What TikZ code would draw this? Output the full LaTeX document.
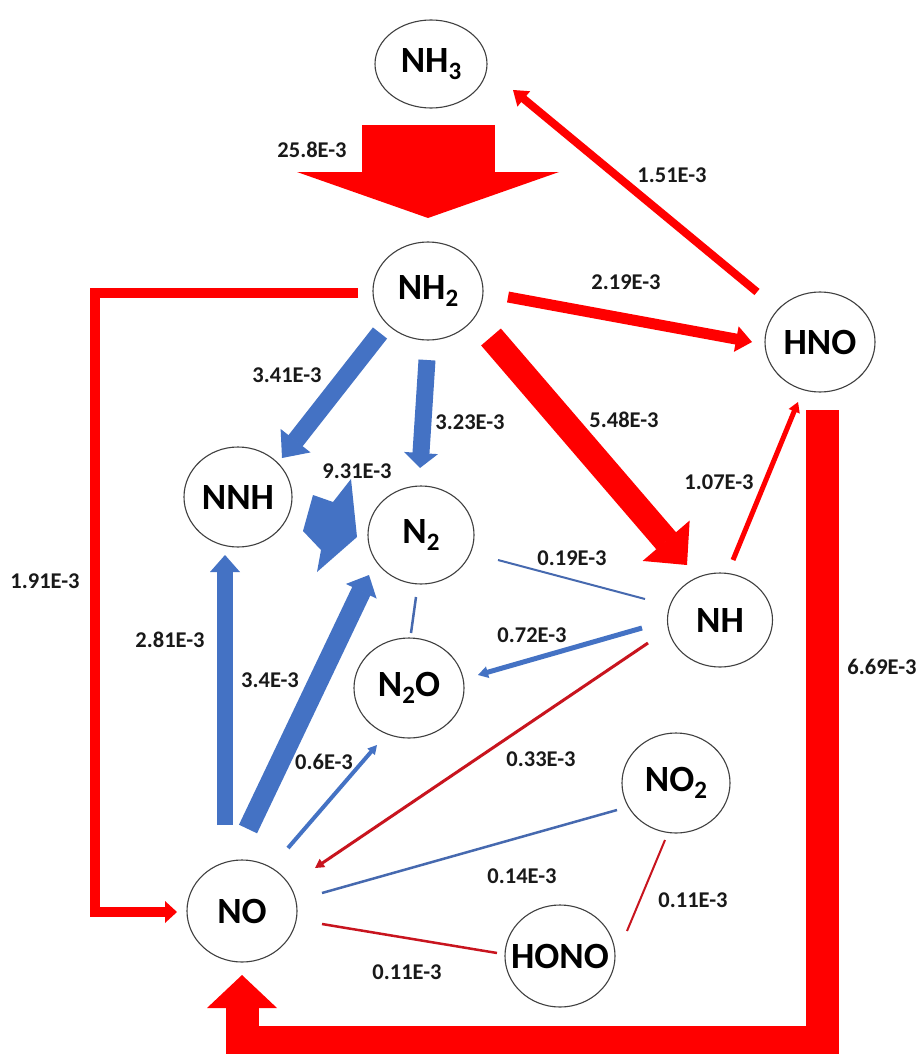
\documentclass[tikz,border=0pt]{standalone}
\usepackage{fontspec}
\setmainfont{Carlito}
\usetikzlibrary{shapes.geometric,calc}
\definecolor{bigred}{RGB}{255,0,0}
\definecolor{flowblue}{RGB}{68,114,196}
\definecolor{thinred}{RGB}{200,20,30}
\definecolor{thinblue}{RGB}{70,105,175}
\definecolor{txt}{RGB}{25,25,25}
\newcommand{\sbs}[1]{\raisebox{-0.2em}{\fontsize{25}{25}\selectfont #1}}
% block arrow: start, tip, shaft width, half head width, head length, colour
\newcommand{\barrow}[6]{%
  \draw[#6, line width=#3] (#1) -- ($(#2)!#5-0.5pt!(#1)$);
  \fill[#6] ($(#2)!#5!(#1)!#4!90:(#2)$) -- (#2) -- ($(#2)!#5!(#1)!#4!-90:(#2)$) -- cycle;}
\begin{document}
\begin{tikzpicture}[x=1pt,y=-1pt,
  species/.style={ellipse, draw=black!75, line width=1.1pt, fill=white, inner sep=0pt,
                  minimum width=110pt, minimum height=100pt},
  spl/.style={font=\bfseries\fontsize{37}{37}\selectfont, text=black, inner sep=0pt},
  lbl/.style={font=\bfseries\fontsize{22.5}{22.5}\selectfont, text=txt, inner sep=0pt},
  thinline/.style={line width=2.3pt}]
\useasboundingbox (0,0) rectangle (919,1054);
\clip (0,0) rectangle (919,1054);
\fill[white] (0,0) rectangle (919,1054);

% ---------- species ----------
\node[species, minimum width=112pt, minimum height=88pt, label={[spl]center:{NH\sbs{3}}}] (nh3) at (431,64) {};
\node[species, minimum height=98pt, label={[spl]center:{NH\sbs{2}}}] (nh2) at (428,291) {};
\node[species, label={[spl]center:{HNO}}] (hno) at (820,342) {};
\node[species, minimum width=108pt, label={[spl]center:{NNH}}] (nnh) at (238,497) {};
\node[species, minimum width=106pt, minimum height=98pt, label={[spl]center:{N\sbs{2}}}] (n2) at (421,535) {};
\node[species, minimum width=105pt, minimum height=94pt, label={[spl]center:{NH}}] (nh) at (720,620) {};
\node[species, label={[spl]center:{N\sbs{2}O}}] (n2o) at (409,688) {};
\node[species, minimum width=108pt, label={[spl]center:{NO\sbs{2}}}] (no2) at (676,783) {};
\node[species, minimum height=102pt, label={[spl]center:{HONO}}] (hono) at (560,956) {};
\node[species, minimum height=102pt, label={[spl]center:{NO}}] (no) at (242,911) {};

% ---------- connector end points ----------
\coordinate (a1s) at (428,125);  \coordinate (a1t) at (428,218);
\coordinate (a2s) at (757,292);  \coordinate (a2t) at (513,90);
\coordinate (a3s) at (508,297);  \coordinate (a3t) at (752,342);
\coordinate (a4s) at (491,337);  \coordinate (a4t) at (687,565);
\coordinate (a5s) at (380,333);  \coordinate (a5t) at (282,458);
\coordinate (a6s) at (427,360);  \coordinate (a6t) at (420,468);
\coordinate (a8s) at (225,825);  \coordinate (a8t) at (225,555);
\coordinate (a9s) at (248,829);  \coordinate (a9t) at (369,575);
\coordinate (a10s) at (288,848); \coordinate (a10t) at (377,745);
\coordinate (a11s) at (645,599); \coordinate (a11t) at (498,560);
\coordinate (a12s) at (411,633); \coordinate (a12t) at (416,597);
\coordinate (a13s) at (642,628); \coordinate (a13t) at (478,675);
\coordinate (a14s) at (648,643); \coordinate (a14t) at (315,868);
\coordinate (a15s) at (617,810); \coordinate (a15t) at (322,893);
\coordinate (a16s) at (665,840); \coordinate (a16t) at (627,931);
\coordinate (a17s) at (497,953); \coordinate (a17t) at (322,924);
\coordinate (a18s) at (733,560); \coordinate (a18t) at (798,402);
\coordinate (e1s) at (358,293);  \coordinate (e1c) at (95,912);  \coordinate (e1t) at (177,912);
\coordinate (e2s) at (822,410);  \coordinate (e2c) at (242,1042); \coordinate (e2t) at (242,975);

% ---------- red fluxes ----------
\barrow{a1s}{a1t}{133pt}{131pt}{46pt}{bigred}
\barrow{a2s}{a2t}{8pt}{10pt}{14pt}{bigred}
\barrow{a3s}{a3t}{11pt}{13pt}{16pt}{bigred}
\barrow{a4s}{a4t}{26pt}{31pt}{32pt}{bigred}
\barrow{a18s}{a18t}{5pt}{6pt}{10pt}{bigred}
\barrow{a14s}{a14t}{3pt}{5pt}{9pt}{thinred}
\draw[thinred, line width=2pt] (a16s) -- (a16t);
\draw[thinred, line width=2.5pt] (a17s) -- (a17t);
% NH2 -> NO elbow
\draw[bigred, line width=10pt, line join=miter] (e1s) -| (e1c) -- ($(e1t)+(-11,0)$);
\fill[bigred] ($(e1t)+(-12,-11)$) -- (e1t) -- ($(e1t)+(-12,11)$) -- cycle;
% HNO -> NO elbow
\draw[bigred, line width=33pt, line join=miter] (e2s) |- (e2c) -- ($(e2t)+(0,32)$);
\fill[bigred] ($(e2t)+(-35,33)$) -- (e2t) -- ($(e2t)+(35,33)$) -- cycle;

% ---------- blue fluxes ----------
\barrow{a5s}{a5t}{18pt}{19pt}{22pt}{flowblue}
\barrow{a6s}{a6t}{17pt}{17pt}{15pt}{flowblue}
\barrow{a8s}{a8t}{16pt}{15pt}{17pt}{flowblue}
\barrow{a9s}{a9t}{20pt}{17pt}{18pt}{flowblue}
\barrow{a10s}{a10t}{4pt}{5pt}{9pt}{flowblue}
\barrow{a13s}{a13t}{5pt}{6pt}{10pt}{flowblue}
\draw[thinblue, line width=2pt] (a11s) -- (a11t);
\draw[thinblue, line width=2.5pt] (a12s) -- (a12t);
\draw[thinblue, line width=2.5pt] (a15s) -- (a15t);
% NNH -> N2 (9.31E-3)
\fill[flowblue] (351,479) -- (357,537) -- (317,572) -- (321,550) -- (303,531) -- (313,495) -- (333,502) -- cycle;

% ---------- labels ----------
\node[lbl] (l1)  at (312,150) {25.8E-3};
\node[lbl] (l2)  at (672,175) {1.51E-3};
\node[lbl] (l3)  at (626,282) {2.19E-3};
\node[lbl] (l4)  at (45,581)  {1.91E-3};
\node[lbl] (l5)  at (287,375) {3.41E-3};
\node[lbl] (l6)  at (470,422) {3.23E-3};
\node[lbl] (l7)  at (624,420) {5.48E-3};
\node[lbl] (l8)  at (357,471) {9.31E-3};
\node[lbl] (l9)  at (719,482) {1.07E-3};
\node[lbl] (l10) at (572,558) {0.19E-3};
\node[lbl] (l11) at (532,635) {0.72E-3};
\node[lbl] (l12) at (170,640) {2.81E-3};
\node[lbl] (l13) at (270,680) {3.4E-3};
\node[lbl] (l14) at (324,762) {0.6E-3};
\node[lbl] (l15) at (541,759) {0.33E-3};
\node[lbl] (l16) at (522,876) {0.14E-3};
\node[lbl] (l17) at (693,900) {0.11E-3};
\node[lbl] (l18) at (407,972) {0.11E-3};
\node[lbl] (l19) at (882,667) {6.69E-3};
\end{tikzpicture}
\end{document}
